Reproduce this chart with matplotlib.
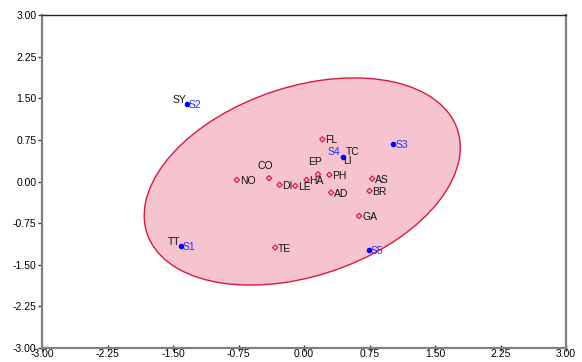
import matplotlib
matplotlib.use("Agg")
import matplotlib.pyplot as plt
from matplotlib.patches import Ellipse

plt.rcParams['font.family'] = ['Liberation Sans', 'DejaVu Sans']

# Category points (red diamonds)
cat_names = ["FL", "EP", "HA", "PH", "AS", "BR", "AD", "GA", "LE", "DI", "CO", "NO", "TE"]
cat_x = [0.21, 0.16, 0.03, 0.29, 0.78, 0.75, 0.31, 0.63, -0.10, -0.28, -0.40, -0.77, -0.33]
cat_y = [0.76, 0.13, 0.03, 0.12, 0.05, -0.17, -0.20, -0.62, -0.08, -0.06, 0.06, 0.03, -1.19]

# Sample points (blue dots)
s_names = ["S1", "S2", "S3", "S4", "S5"]
s_x = [-1.41, -1.34, 1.02, 0.45, 0.74]
s_y = [-1.16, 1.39, 0.68, 0.45, -1.23]

# Categories coinciding with sample points (labels only)
hid_names = ["SY", "TT", "TC", "LI"]
hid_x = [-1.34, -1.41, 0.45, 0.45]
hid_y = [1.39, -1.16, 0.45, 0.45]

ticks = [-3.00, -2.25, -1.50, -0.75, 0.00, 0.75, 1.50, 2.25, 3.00]

# Label placement (pixel offsets, alignment)
cat_off = {"EP": (-3, 12, 'center'), "CO": (-4, 12, 'center')}
s_off = {"S4": (-3, 5, 'right')}
hid_off = {"SY": (-1, 4, 'right'), "TT": (-1, 4, 'right'),
           "TC": (3, 5, 'left'), "LI": (0, -4, 'left')}

fig = plt.figure(figsize=(5.82, 3.62), dpi=100)
ax = fig.add_axes([42/582, 1-348/362, (566-42)/582, (348-15)/362])
ax.set_xlim(-3, 3)
ax.set_ylim(-3, 3)

ell = Ellipse((-0.02, 0.0), width=4.24, height=3.01, angle=47.7,
              facecolor='#F6C4CF', edgecolor='#D8193F', linewidth=1.0, zorder=1)
ax.add_patch(ell)

ax.scatter(cat_x, cat_y, marker='D', s=7, facecolor='none',
           edgecolor='#E0193F', linewidth=0.9, zorder=3)
ax.scatter(s_x, s_y, marker='o', s=9, color='#0000FF', zorder=4)

for n, x, y in zip(cat_names, cat_x, cat_y):
    dx, dy, ha = cat_off.get(n, (3, -1, 'left'))
    ax.annotate(n, (x, y), xytext=(dx, dy), textcoords='offset pixels',
                ha=ha, va='center', fontsize=7.5, color='#111111', zorder=5)
for n, x, y in zip(s_names, s_x, s_y):
    dx, dy, ha = s_off.get(n, (2, -1, 'left'))
    ax.annotate(n, (x, y), xytext=(dx, dy), textcoords='offset pixels',
                ha=ha, va='center', fontsize=7.5, color='#2B2BFF', zorder=5)
for n, x, y in zip(hid_names, hid_x, hid_y):
    dx, dy, ha = hid_off[n]
    ax.annotate(n, (x, y), xytext=(dx, dy), textcoords='offset pixels',
                ha=ha, va='center', fontsize=7.5, color='#111111', zorder=5)

ax.set_xticks(ticks)
ax.set_yticks(ticks)
ax.set_xticklabels([f"{t:.2f}" for t in ticks])
ax.set_yticklabels([f"{t:.2f}" for t in ticks])
ax.tick_params(axis='y', direction='out', length=3, width=1, color='#333333',
               labelsize=7.5, pad=1)
ax.tick_params(axis='x', direction='inout', length=4, width=1, color='#333333',
               labelsize=7.5, pad=-1)

for side in ['left', 'right', 'bottom']:
    ax.spines[side].set_color('#808080')
    ax.spines[side].set_linewidth(1.6)
ax.spines['top'].set_color('#222222')
ax.spines['top'].set_linewidth(1.0)

fig.savefig("out.png", dpi=100)
